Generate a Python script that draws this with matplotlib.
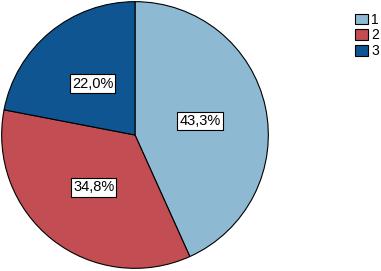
import matplotlib.pyplot as plt

categories = ['1', '2', '3']
shares = [43.3, 34.8, 22.0]
colors = ['#8db9d3', '#c24e53', '#0f5591']

plt.rcParams['font.family'] = ['Liberation Sans', 'DejaVu Sans']

fig = plt.figure(figsize=(3.81, 2.71), dpi=100)
ax = fig.add_axes([1 / 381, 2 / 271, 268 / 381, 268 / 271])

wedges, texts, autotexts = ax.pie(
    shares, colors=colors, startangle=90, counterclock=False,
    radius=1.0, pctdistance=0.5,
    autopct=lambda p: ('%.1f%%' % p).replace('.', ','),
    wedgeprops=dict(edgecolor='black', linewidth=0.8),
    textprops=dict(fontsize=10.5, color='black'),
)
for t in autotexts:
    t.set_bbox(dict(boxstyle='square,pad=0.15', facecolor='white',
                    edgecolor='black', linewidth=0.8))
ax.set_xlim(-1.005, 1.005)
ax.set_ylim(-1.005, 1.005)
ax.set_aspect('equal')

# legend is partly cut by the right edge, as in the original
fig.legend(wedges, categories, loc='upper left',
           bbox_to_anchor=(345 / 381, 1 - 3 / 271), frameon=False,
           fontsize=10, handlelength=0.95, handleheight=0.8,
           handletextpad=0.25, labelspacing=0.12, borderpad=0.2)

fig.savefig('out.png', dpi=100)
